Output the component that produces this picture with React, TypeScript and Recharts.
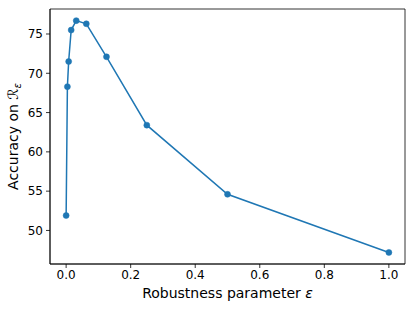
import React from 'react';
import { LineChart, Line, XAxis, YAxis, ReferenceArea } from 'recharts';

// robustness parameter values (x) and accuracy (y)
const epsilons = [0, 1 / 256, 1 / 128, 1 / 64, 1 / 32, 1 / 16, 1 / 8, 1 / 4, 1 / 2, 1];
const accuracy = [51.9, 68.3, 71.5, 75.5, 76.7, 76.3, 72.1, 63.4, 54.6, 47.2];
const xTicks = [0, 0.2, 0.4, 0.6, 0.8, 1.0];
const yTicks = [50, 55, 60, 65, 70, 75];

const X_DOMAIN: [number, number] = [-0.05, 1.05];
const Y_DOMAIN: [number, number] = [45.73, 78.18];

const data = epsilons.map((eps, i) => ({ eps, acc: accuracy[i] }));

const FONT = 'DejaVu Sans, sans-serif';

const YLabel = (props: any) => {
  const { viewBox } = props;
  const cx = viewBox.x + 13;
  const cy = viewBox.y + viewBox.height / 2;
  return (
    <text
      x={cx}
      y={cy}
      transform={`rotate(-90 ${cx} ${cy})`}
      textAnchor="middle"
      dominantBaseline="central"
      fontFamily={FONT}
      fontSize={14}
      fill="#000"
    >
      Accuracy on <tspan fontStyle="italic">ℛ</tspan>
      <tspan fontStyle="italic" fontSize={10} dy={4}>ε</tspan>
    </text>
  );
};

const XLabel = (props: any) => {
  const { viewBox } = props;
  const cx = viewBox.x + viewBox.width / 2;
  return (
    <text
      x={cx}
      y={viewBox.y + 29}
      textAnchor="middle"
      dominantBaseline="central"
      fontFamily={FONT}
      fontSize={14}
      fill="#000"
    >
      Robustness parameter <tspan fontStyle="italic">ε</tspan>
    </text>
  );
};

export default function App() {
  return (
    <div style={{ position: 'absolute', left: 0, top: 0, background: '#fff' }}>
      <LineChart width={415} height={311} data={data} margin={{ top: 9, right: 10, left: 0, bottom: 0 }}>
        <XAxis
          dataKey="eps"
          type="number"
          domain={X_DOMAIN}
          ticks={xTicks}
          tickFormatter={(v: number) => v.toFixed(1)}
          height={47}
          tickSize={4}
          tickMargin={2}
          tick={{ fontSize: 12, fill: '#000', fontFamily: FONT }}
          stroke="#000"
          strokeWidth={0.8}
          allowDataOverflow
          label={<XLabel />}
        />
        <YAxis
          type="number"
          domain={Y_DOMAIN}
          ticks={yTicks}
          width={50}
          tickSize={4}
          tickMargin={3}
          tick={{ fontSize: 12, fill: '#000', fontFamily: FONT }}
          stroke="#000"
          strokeWidth={0.8}
          allowDataOverflow
          label={<YLabel />}
        />
        <ReferenceArea
          x1={X_DOMAIN[0]}
          x2={X_DOMAIN[1]}
          y1={Y_DOMAIN[0]}
          y2={Y_DOMAIN[1]}
          fill="none"
          stroke="#000"
          strokeWidth={0.8}
          ifOverflow="visible"
        />
        <Line
          type="linear"
          dataKey="acc"
          stroke="#1f77b4"
          strokeWidth={1.5}
          dot={{ r: 3, fill: '#1f77b4', stroke: '#1f77b4', strokeWidth: 0.5 }}
          isAnimationActive={false}
        />
      </LineChart>
    </div>
  );
}
